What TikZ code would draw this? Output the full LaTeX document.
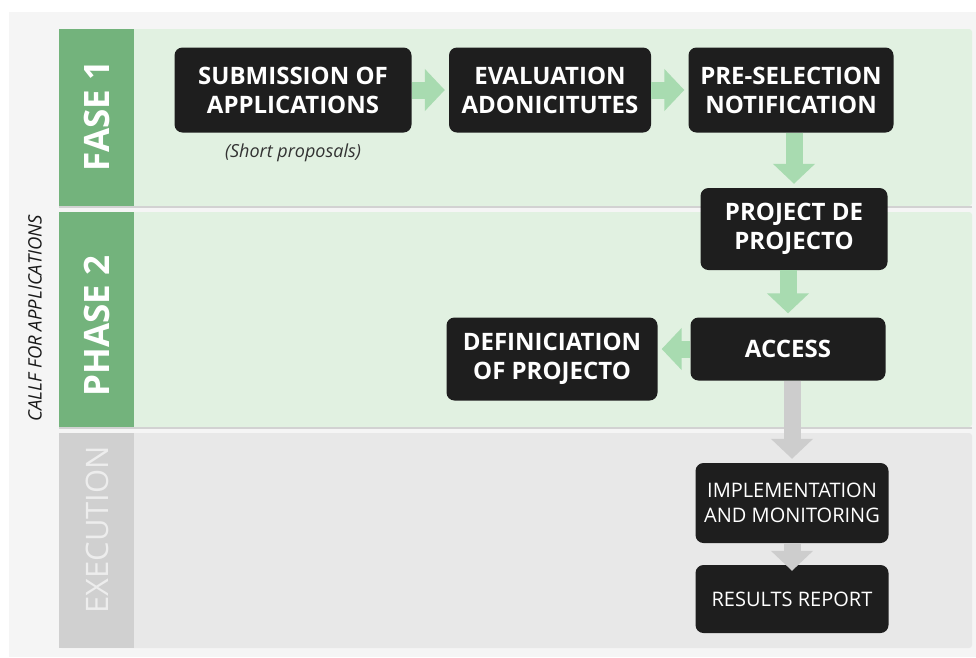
\documentclass[tikz,border=0pt]{standalone}
\usepackage{fontspec}
\setmainfont{Open Sans}
\usepackage{xcolor}
\usepackage{tikz}
\usetikzlibrary{positioning}
\usetikzlibrary{arrows.meta}

\definecolor{panelgrey}{HTML}{F5F5F5}
\definecolor{bandgreen}{HTML}{E1F1E1}
\definecolor{stripgreen}{HTML}{73B37C}
\definecolor{bandgrey}{HTML}{E8E8E8}
\definecolor{stripgrey}{HTML}{D0D0D0}
\definecolor{boxblack}{HTML}{1E1E1E}
\definecolor{arrowgreen}{HTML}{A8DBB0}
\definecolor{arrowgrey}{HTML}{CDCDCD}

\tikzset{
  stepbox/.style={fill=boxblack, text=white, rounded corners=8pt, align=center, inner sep=0pt,
    font=\fontsize{24}{29}\selectfont\bfseries},
  stepthin/.style={stepbox, font=\fontsize{20}{25}\selectfont},
  phaselabel/.style={rotate=90, text=white, font=\fontsize{35}{35}\selectfont\bfseries},
  greenflow/.style={draw=arrowgreen, line width=17pt, -{Triangle[length=20pt,width=41pt]}, shorten >=4pt},
  greyflow/.style={greenflow, draw=arrowgrey},
}

\begin{document}
\begin{tikzpicture}[x=1pt,y=-1pt]
\useasboundingbox (0,0) rectangle (976,657);
\fill[color=white] (0,0) rectangle (976,657);
\fill[color=panelgrey] (9,12) rectangle (976,657);
\fill[color=bandgreen,rounded corners=3pt] (59,29) rectangle (972,206);
\fill[color=stripgreen] (59,29) rectangle (134,206);
\draw[color=gray!35,line width=1.2pt] (59,207) -- (972,207);
\fill[color=bandgreen,rounded corners=3pt] (59,212) rectangle (972,427);
\fill[color=stripgreen] (59,212) rectangle (134,427);
\draw[color=gray!35,line width=1.2pt] (59,428) -- (972,428);
\fill[color=bandgrey,rounded corners=3pt] (59,433) rectangle (972,648);
\fill[color=stripgrey] (59,433) rectangle (134,648);

\node[rotate=90,font=\fontsize{18.5}{18.5}\selectfont\itshape,text=black!90] (call) at (35,318) {CALLF FOR APPLICATIONS};
\node[phaselabel] (fase) at (97,116) {FASE 1};
\node[phaselabel] (phase) at (97,326) {PHASE 2};
\node[phaselabel,text=white!93!black,font=\fontsize{31}{31}\selectfont] (exec) at (97,530) {EXECUTION};

\node[stepbox,minimum width=237pt,minimum height=85pt] (sub) at (293,90) {SUBMISSION OF\\APPLICATIONS};
\node[font=\fontsize{18}{18}\selectfont\itshape,text=black!80] (short) at (293,153) {(Short proposals)};
\node[stepbox,minimum width=202pt,minimum height=85pt] (eva) at (550,90) {EVALUATION\\ADONICITUTES};
\node[stepbox,minimum width=205pt,minimum height=85pt] (pre) at (791,90) {PRE-SELECTION\\NOTIFICATION};
\node[stepbox,minimum width=187pt,minimum height=82pt] (proj) at (794,229) {PROJECT DE\\PROJECTO};
\node[stepbox,minimum width=195pt,minimum height=63pt] (acc) at (788,349) {ACCESS};
\node[stepbox,minimum width=211pt,minimum height=83pt] (def) at (552,359) {DEFINICIATION\\OF PROJECTO};
\node[stepthin,minimum width=193pt,minimum height=80pt] (impl) at (792,503) {IMPLEMENTATION\\AND MONITORING};
\node[stepthin,minimum width=193pt,minimum height=68pt] (res) at (792,599) {RESULTS REPORT};

\draw[greenflow] (sub) -- (eva);
\draw[greenflow] (eva) -- (pre);
\draw[greenflow] (pre.south -| proj.north) -- (proj.north);
\draw[greenflow] (proj.south -| acc.north) -- (acc.north);
\draw[greenflow] (acc.west) -- (acc.west -| def.east);
\draw[greyflow] (acc.south -| impl.north) -- (impl.north);
\draw[greyflow,shorten >=-6pt] (impl.south) -- (res.north);
\end{tikzpicture}
\end{document}
